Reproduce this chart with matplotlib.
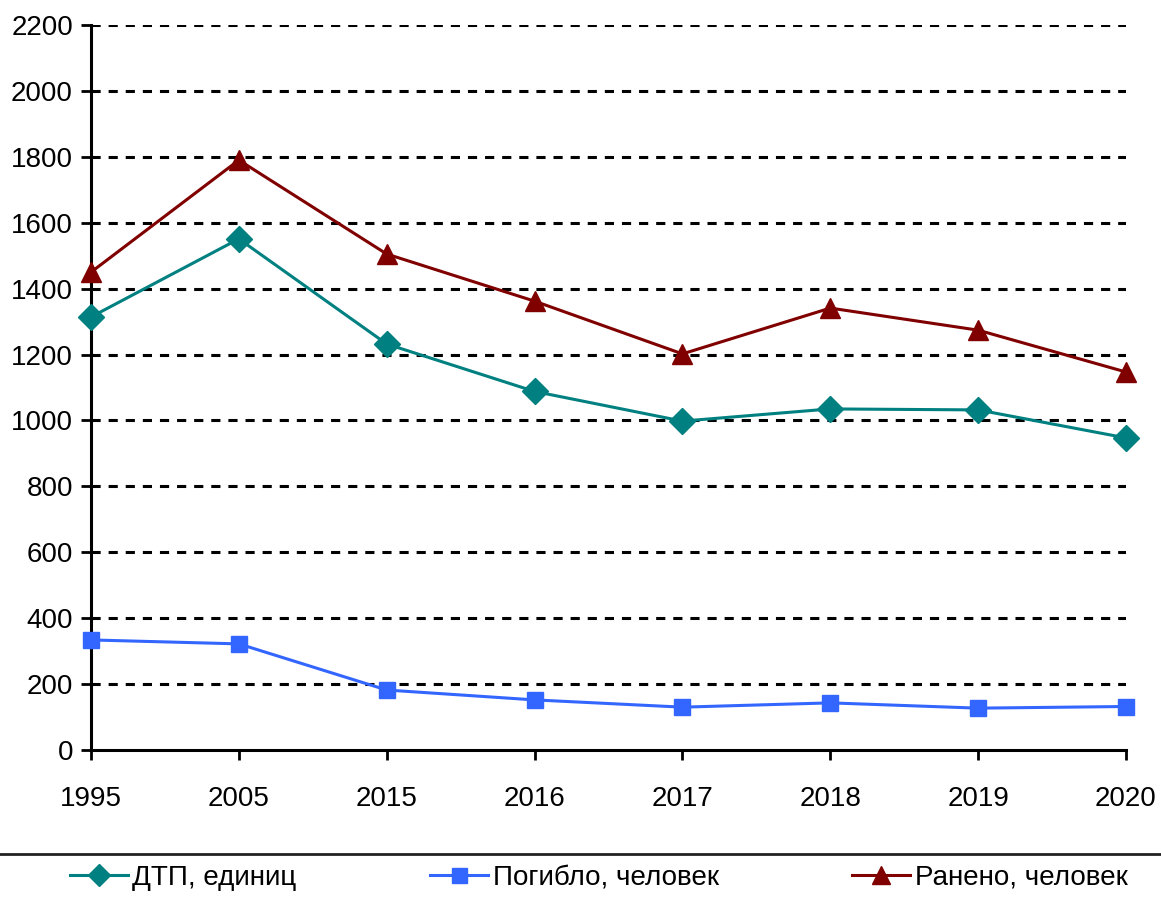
import matplotlib
matplotlib.use("Agg")
import matplotlib.pyplot as plt

years = ["1995", "2005", "2015", "2016", "2017", "2018", "2019", "2020"]
dtp = [1314, 1551, 1232, 1088, 998, 1035, 1032, 947]
killed = [334, 322, 182, 152, 130, 143, 127, 132]
injured = [1450, 1790, 1505, 1362, 1202, 1341, 1274, 1147]

labels = ["ДТП, единиц", "Погибло, человек", "Ранено, человек"]
colors = ["#008080", "#3366FF", "#800000"]

plt.rcParams['font.family'] = ["Liberation Sans", "DejaVu Sans"]

fig = plt.figure(figsize=(11.61, 8.99), dpi=100)
ax = fig.add_axes([91/1161, 1 - 750/899, (1126 - 91)/1161, (750 - 25)/899])

x = list(range(len(years)))
ax.plot(x, dtp, color=colors[0], lw=2.2, marker='D', markersize=13, label=labels[0], clip_on=False, zorder=3)
ax.plot(x, killed, color=colors[1], lw=2.2, marker='s', markersize=12, label=labels[1], clip_on=False, zorder=3)
ax.plot(x, injured, color=colors[2], lw=2.2, marker='^', markersize=15, label=labels[2], clip_on=False, zorder=3)

ax.set_xlim(0, len(years) - 1)
ax.set_ylim(0, 2200)
ax.set_yticks(range(0, 2201, 200))
ax.set_xticks(x)
ax.set_xticklabels(years)
ax.tick_params(axis='both', labelsize=20, direction='out', length=7, width=2.0, color='black')
ax.tick_params(axis='x', pad=19)
ax.tick_params(axis='y', pad=6)

for v in range(200, 2201, 200):
    ax.axhline(v, color='black', lw=2.2, linestyle=(0, (3, 2.6)), zorder=1)

for s in ['top', 'right']:
    ax.spines[s].set_visible(False)
for s in ['left', 'bottom']:
    ax.spines[s].set_linewidth(2.2)
    ax.spines[s].set_color('black')

# separator line above legend
fig.add_artist(plt.Line2D([0, 1], [1 - 854/899, 1 - 854/899], transform=fig.transFigure, color='#222222', lw=2.0))

leg = fig.legend(loc='center left', bbox_to_anchor=(70/1161, 1 - 878/899), ncol=3, frameon=False,
                 prop={'size': 20}, handlelength=2.1, handletextpad=0.15,
                 columnspacing=4.8, borderaxespad=0, borderpad=0, markerscale=0.9)

fig.savefig("out.png", dpi=100)
